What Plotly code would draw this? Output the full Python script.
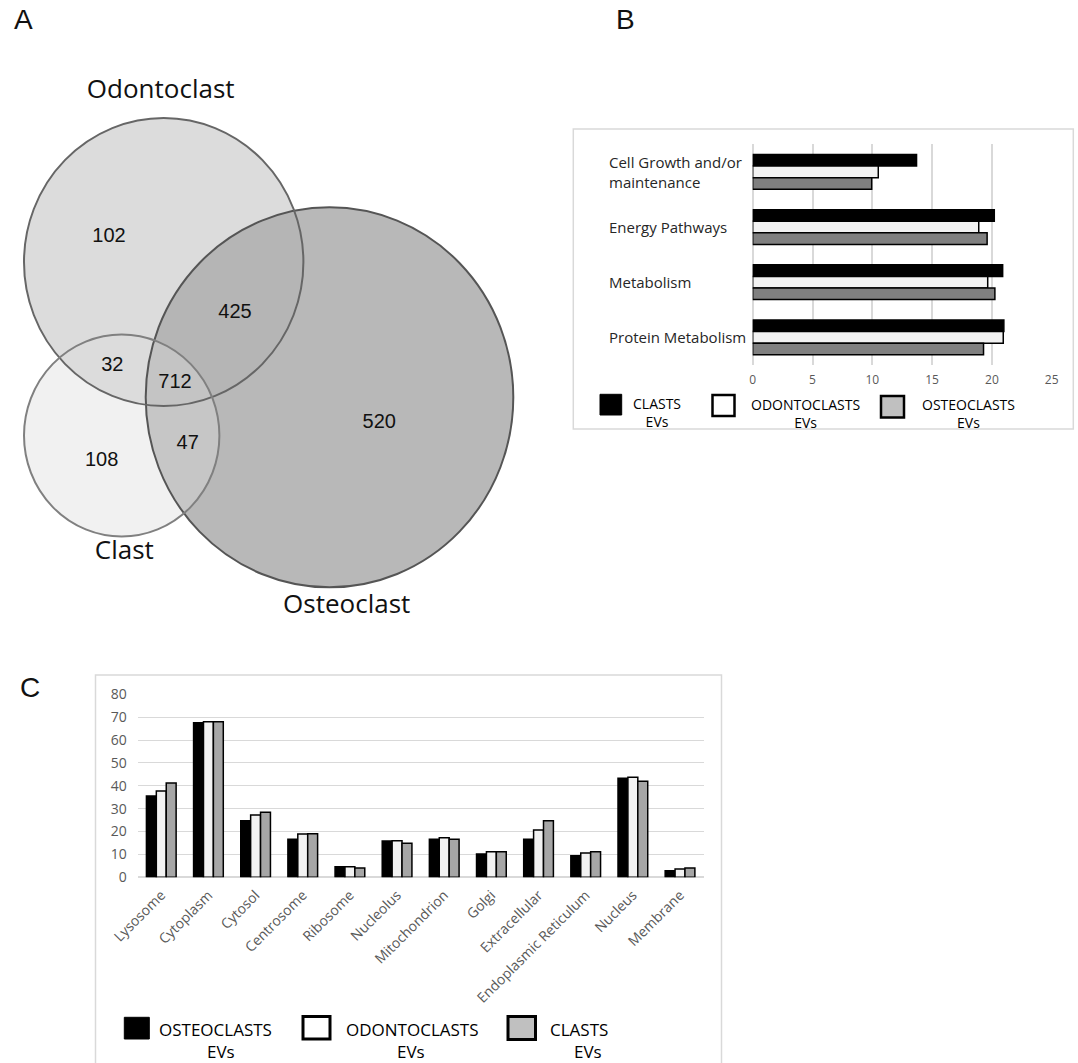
import plotly.graph_objects as go

W, H = 1078, 1063

# ---------------- DATA ----------------
# Panel A (Venn)
venn_sets = ["Odontoclast", "Osteoclast", "Clast"]
venn_region_counts = [102, 425, 520, 32, 712, 47, 108]

# Panel B
b_categories = ["Cell Growth and/or<br>maintenance", "Energy Pathways", "Metabolism", "Protein Metabolism"]
b_clasts = [13.7, 20.2, 20.9, 21.0]
b_odontoclasts = [10.5, 18.9, 19.65, 20.95]
b_osteoclasts = [9.95, 19.6, 20.25, 19.3]
b_ticks = [0, 5, 10, 15, 20, 25]

# Panel C
c_categories = ["Lysosome", "Cytoplasm", "Cytosol", "Centrosome", "Ribosome", "Nucleolus",
                "Mitochondrion", "Golgi", "Extracellular", "Endoplasmic Reticulum", "Nucleus", "Membrane"]
c_osteoclasts = [35.5, 67.6, 24.7, 16.6, 4.6, 15.9, 16.6, 10.2, 16.6, 9.4, 43.3, 2.9]
c_odontoclasts = [37.7, 68.0, 27.2, 18.9, 4.6, 16.0, 17.3, 11.2, 20.7, 10.6, 43.7, 3.6]
c_clasts = [41.2, 68.0, 28.4, 19.0, 4.1, 14.9, 16.6, 11.2, 24.7, 11.2, 42.0, 4.1]
c_ticks = [0, 10, 20, 30, 40, 50, 60, 70, 80]

# ---------------- GEOMETRY / STYLE ----------------
# Venn ellipses (pixel space of the Venn panel): centre x, centre y, radius x, radius y
venn_cx = [163.7, 329.5, 121.7]
venn_cy = [262.0, 397.3, 435.5]
venn_rx = [139.7, 183.8, 97.7]
venn_ry = [144.0, 190.0, 101.0]
venn_line = ["#666666", "#555555", "#808080"]
venn_fill = ["rgba(177,177,177,0.45)", "rgb(184,184,184)", "rgba(220,220,220,0.394)"]
venn_draw_order = [1, 0, 2]
venn_count_x = [109, 235, 379.3, 112.3, 175, 187.7, 101.7]
venn_count_y = [236.7, 312.7, 422.7, 366, 383.3, 444.3, 461]
venn_label_x = [160.7, 346.7, 124.3]
venn_label_y = [91.7, 606.7, 552.7]

FONT = "Open Sans, Lato, sans-serif"
ARIAL = "Liberation Sans, Arial, sans-serif"
GRID = "#d9d9d9"
TICKC = "#595959"


def px(x):
    return x / W


def py(y):
    return 1 - y / H


fig = go.Figure()

# ---------------- Panel C bars ----------------
for name, vals, col in [("OSTEOCLASTS EVs", c_osteoclasts, "#000000"),
                        ("ODONTOCLASTS EVs", c_odontoclasts, "#f2f2f2"),
                        ("CLASTS EVs", c_clasts, "#a6a6a6")]:
    fig.add_trace(go.Bar(x=c_categories, y=vals, name=name, xaxis="x", yaxis="y",
                         marker=dict(color=col, line=dict(color="#000000", width=1.5)),
                         showlegend=False))

# ---------------- Panel B bars ----------------
for name, vals, col in [("CLASTS EVs", b_clasts, "#000000"),
                        ("ODONTOCLASTS EVs", b_odontoclasts, "#f2f2f2"),
                        ("OSTEOCLASTS EVs", b_osteoclasts, "#808080")]:
    fig.add_trace(go.Bar(y=b_categories, x=vals, name=name, orientation="h", xaxis="x2", yaxis="y2",
                         marker=dict(color=col, line=dict(color="#000000", width=1.5)),
                         showlegend=False))

# ---------------- Panel A Venn text ----------------
fig.add_trace(go.Scatter(x=venn_count_x, y=venn_count_y, text=[str(v) for v in venn_region_counts],
                         mode="text", xaxis="x3", yaxis="y3", showlegend=False, hoverinfo="skip",
                         textfont=dict(family=ARIAL, size=20, color="#111111")))
fig.add_trace(go.Scatter(x=venn_label_x, y=venn_label_y, text=venn_sets,
                         mode="text", xaxis="x3", yaxis="y3", showlegend=False, hoverinfo="skip",
                         textfont=dict(family=FONT, size=26, color="#111111")))

shapes = []
# Venn fills
for i in venn_draw_order:
    shapes.append(dict(type="circle", xref="x3", yref="y3", layer="below",
                       x0=venn_cx[i] - venn_rx[i], x1=venn_cx[i] + venn_rx[i],
                       y0=venn_cy[i] - venn_ry[i], y1=venn_cy[i] + venn_ry[i],
                       fillcolor=venn_fill[i], line=dict(width=0)))
# Venn outlines
for i in venn_draw_order:
    shapes.append(dict(type="circle", xref="x3", yref="y3", layer="below",
                       x0=venn_cx[i] - venn_rx[i], x1=venn_cx[i] + venn_rx[i],
                       y0=venn_cy[i] - venn_ry[i], y1=venn_cy[i] + venn_ry[i],
                       fillcolor="rgba(0,0,0,0)", line=dict(width=2, color=venn_line[i])))

# Panel frames
shapes.append(dict(type="rect", xref="paper", yref="paper", x0=px(573.3), x1=px(1073.3),
                   y0=py(429), y1=py(129), line=dict(color=GRID, width=1.5)))
shapes.append(dict(type="rect", xref="paper", yref="paper", x0=px(95.5), x1=px(721.5),
                   y0=py(1075), y1=py(675), line=dict(color=GRID, width=1.5)))

annotations = []


def legend_square(x0, x1, y0, y1, fill, lw):
    shapes.append(dict(type="rect", xref="paper", yref="paper", x0=px(x0), x1=px(x1),
                       y0=py(y1), y1=py(y0), fillcolor=fill,
                       line=dict(color="#000000", width=lw)))


def legend_text(text, x, y, size):
    annotations.append(dict(text=text, x=px(x), y=py(y), xref="paper", yref="paper",
                            showarrow=False, xanchor="center", yanchor="middle", align="center",
                            font=dict(family=FONT, size=size, color="#000000")))


# Panel B legend (two-line labels as single texts)
legend_square(600, 621.7, 394.3, 415, "#000000", 1)
legend_text("CLASTS<br>EVs", 657, 412, 14)
legend_square(712.5, 734.5, 395, 416, "#ffffff", 2.5)
legend_text("ODONTOCLASTS<br>EVs", 805, 413, 14)
legend_square(881, 904, 396, 417.5, "#c0c0c0", 2.5)
legend_text("OSTEOCLASTS<br>EVs", 968.5, 413, 14)

# Panel C legend
legend_square(124.3, 149.3, 1017.3, 1039, "#000000", 1)
legend_text("OSTEOCLASTS", 215.3, 1029.5, 17)
legend_text("EVs", 221, 1051, 17)
legend_square(303, 330, 1016.5, 1039, "#ffffff", 3)
legend_text("ODONTOCLASTS", 412.7, 1029.5, 17)
legend_text("EVs", 411, 1051, 17)
legend_square(508, 535.5, 1016.5, 1039.5, "#c0c0c0", 3)
legend_text("CLASTS", 578.8, 1029.5, 17)
legend_text("EVs", 588.3, 1051, 17)

# Panel B category labels (left aligned)
for cat in b_categories:
    annotations.append(dict(text=cat, x=px(606.5), y=cat, xref="paper", yref="y2",
                            showarrow=False, xanchor="left", yanchor="middle", align="left",
                            font=dict(family=FONT, size=15, color="#262626")))

# Panel letters
for letter, lx, ly in [("A", 23.3, 19.5), ("B", 625.3, 19.7), ("C", 30, 687)]:
    annotations.append(dict(text=letter, x=px(lx), y=py(ly), xref="paper", yref="paper",
                            showarrow=False, xanchor="center", yanchor="middle",
                            font=dict(family=ARIAL, size=28, color="#111111")))

fig.update_layout(
    template="none",
    width=W, height=H, autosize=False,
    margin=dict(l=0, r=0, t=0, b=0, pad=0, autoexpand=False),
    paper_bgcolor="#ffffff", plot_bgcolor="rgba(0,0,0,0)",
    barmode="group", bargap=0.37, bargroupgap=0,
    shapes=shapes, annotations=annotations,
    showlegend=False,
    # Panel C
    xaxis=dict(domain=[px(137.7), px(703.6)], anchor="y", showgrid=False, showline=False,
               zeroline=False, automargin=False,
               tickangle=-45, ticks="", ticklabelstandoff=6,
               tickfont=dict(family=FONT, size=14, color=TICKC), fixedrange=True),
    yaxis=dict(domain=[py(877.3), py(694.3)], anchor="x", range=[0, 80], tickvals=c_ticks,
               showgrid=True, gridcolor=GRID, gridwidth=1.3, zeroline=True, zerolinecolor=GRID,
               zerolinewidth=1.5, showline=False, ticks="", ticklabelstandoff=10, automargin=False,
               tickfont=dict(family=FONT, size=14, color=TICKC), fixedrange=True),
    # Panel B
    xaxis2=dict(domain=[px(752.7), px(1051.7)], anchor="y2", range=[0, 25], tickvals=b_ticks,
                showgrid=True, gridcolor=GRID, gridwidth=1.5, zeroline=True, zerolinecolor=GRID,
                zerolinewidth=1.5, showline=False, ticks="", ticklabelstandoff=6, automargin=False,
                tickfont=dict(family=FONT, size=12, color=TICKC), fixedrange=True),
    yaxis2=dict(domain=[py(365), py(144.3)], anchor="x2", autorange="reversed", automargin=False,
                showticklabels=False, showgrid=False, showline=False, zeroline=False,
                ticks="", fixedrange=True),
    # Panel A
    xaxis3=dict(domain=[0, px(530)], anchor="y3", range=[0, 530], visible=False,
                automargin=False, fixedrange=True),
    yaxis3=dict(domain=[py(630), py(60)], anchor="x3", range=[630, 60], visible=False,
                automargin=False, fixedrange=True),
)

fig.write_html("out.html", config={"displayModeBar": False},
               post_script="document.body.style.margin='0';")
